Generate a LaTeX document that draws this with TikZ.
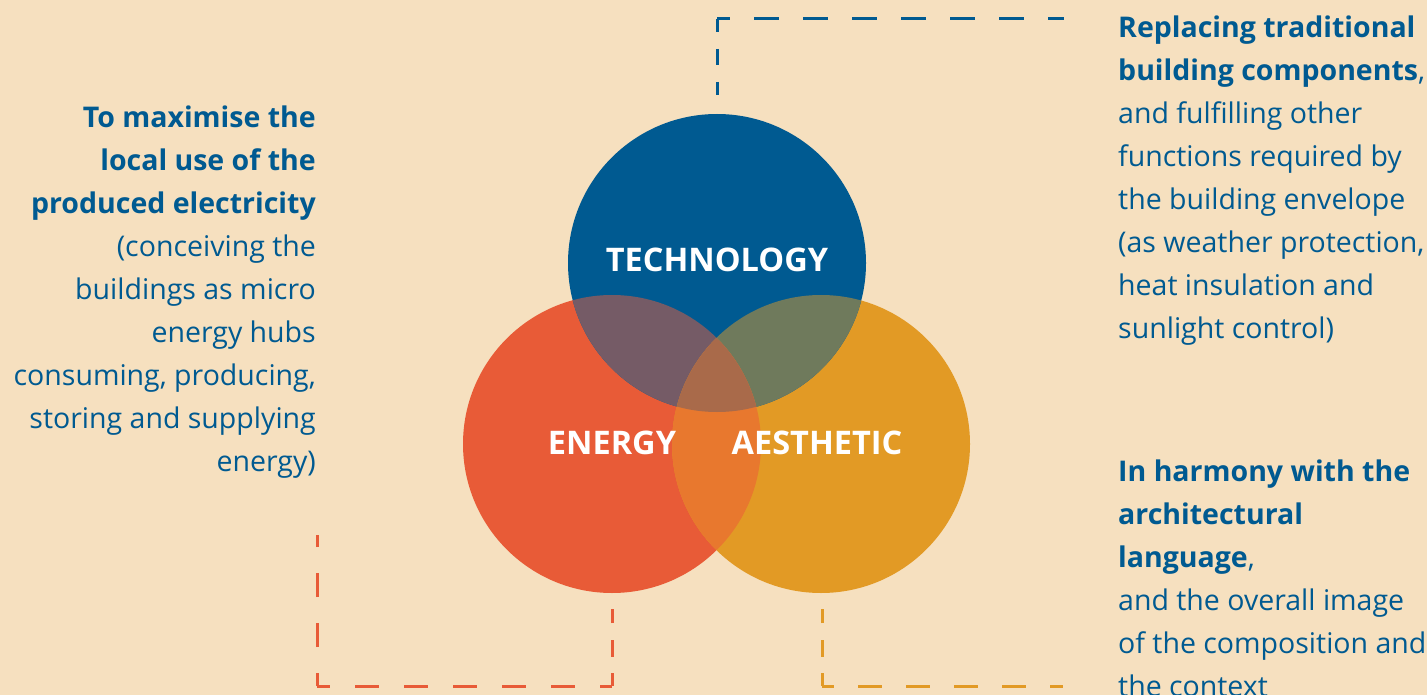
\documentclass[tikz,border=0pt]{standalone}
\usepackage{fontspec}
\setmainfont{Open Sans}
\definecolor{bg}{HTML}{F6E0BF}
\definecolor{ink}{HTML}{005A91}
\definecolor{techc}{HTML}{005A91}
\definecolor{energyc}{HTML}{E85B37}
\definecolor{aesthc}{HTML}{E29A25}
\definecolor{teC}{HTML}{755B66}
\definecolor{taC}{HTML}{6F7A5C}
\definecolor{eaC}{HTML}{E8782E}
\definecolor{allC}{HTML}{A96A4A}
\tikzset{
  disc/.style={circle, inner sep=0pt, minimum size=298pt},
  circlabel/.style={text=white, font=\fontsize{32.5}{36}\selectfont\bfseries, inner sep=0pt, anchor=base},
  blurb/.style={text=ink, font=\fontsize{28.5}{43}\selectfont, inner sep=0pt},
  bracket/.style={line width=3pt},
}
\begin{document}
\begin{tikzpicture}[x=1pt, y=-1pt]
  \fill[bg] (0,0) rectangle (1427,695);
  \useasboundingbox (0,0) rectangle (1427,695);
  \clip (0,0) rectangle (1427,695);

  % the three discs
  \node[disc, fill=energyc] (energy) at (612,444) {};
  \node[disc, fill=aesthc] (aesth) at (821,444) {};
  \node[disc, fill=techc] (tech) at (717,263) {};

  % pairwise overlaps
  \begin{scope}
    \clip (tech.center) circle (149pt);
    \fill[teC] (energy.center) circle (149pt);
    \fill[taC] (aesth.center) circle (149pt);
  \end{scope}
  \begin{scope}
    \clip (energy.center) circle (149pt);
    \fill[eaC] (aesth.center) circle (149pt);
    \clip (aesth.center) circle (149pt);
    \fill[allC] (tech.center) circle (149pt);
  \end{scope}

  % disc labels
  \node[circlabel] (techlabel) at (717,272) {TECHNOLOGY};
  \node[circlabel] (energylabel) at (612,454) {ENERGY};
  \node[circlabel] (aesthlabel) at (817,454) {AESTHETIC};

  % text blocks
  \node[blurb, align=right, anchor=north east] (left) at (316,106)
    {\bfseries To maximise the\\ \bfseries local use of the\\ \bfseries produced electricity\\
     (conceiving the\\ buildings as micro\\ energy hubs\\ consuming, producing,\\
     storing and supplying\\ energy)};
  \node[blurb, align=left, anchor=north west] (topright) at (1118,16)
    {\bfseries Replacing traditional\\ {\bfseries building components},\\ and fulfilling other\\
     functions required by\\ the building envelope\\ (as weather protection,\\
     heat insulation and\\ sunlight control)};
  \node[blurb, align=left, anchor=north west] (botright) at (1118,460)
    {\bfseries In harmony with the\\ \bfseries architectural\\ {\bfseries language},\\
     and the overall image\\ of the composition and\\ the context};

  % dashed brackets, each drawn outward from its corner
  \coordinate (bc) at (717,19);
  \coordinate (bh) at (1064,19);
  \coordinate (bv) at (717,95);
  \draw[bracket, ink, dash pattern=on 25pt off 24pt, dash phase=12pt] (bc) -- (bh);
  \draw[bracket, ink, dash pattern=on 16pt off 17pt, dash phase=3pt] (bc) -- (bv);

  \coordinate (rc) at (317,686);
  \coordinate (rv) at (317,535);
  \coordinate (rd) at (612,686);
  \coordinate (rt) at (612,609);
  \draw[bracket, energyc, dash pattern=on 24pt off 26pt, dash phase=11pt] (rc) -- (rv);
  \draw[bracket, energyc, dash pattern=on 24pt off 25pt, dash phase=11pt] (rc) -- (rd);
  \draw[bracket, energyc, dash pattern=on 17pt off 16.5pt, dash phase=4pt] (rd) -- (rt);

  \coordinate (yc) at (822,686);
  \coordinate (yt) at (822,609);
  \coordinate (yh) at (1063,686);
  \draw[bracket, aesthc, dash pattern=on 17pt off 16.5pt, dash phase=4pt] (yc) -- (yt);
  \draw[bracket, aesthc, dash pattern=on 24pt off 24pt, dash phase=12pt] (yc) -- (yh);
\end{tikzpicture}
\end{document}
